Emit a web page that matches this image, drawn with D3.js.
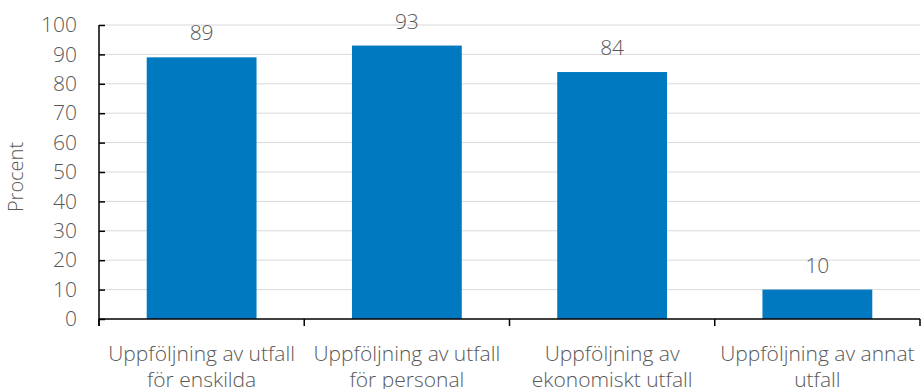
<!DOCTYPE html>
<html>
<head>
<meta charset="utf-8">
<script src="https://cdn.jsdelivr.net/npm/d3@7"></script>
<style>
  html, body { margin: 0; padding: 0; background: #fff; }
  svg { display: block; font-family: "Open Sans", sans-serif; font-weight: 300; }
</style>
</head>
<body>
<svg id="chart" width="921" height="389"></svg>
<script>
// Categories (each label split over two lines) and their percentages
const categories = [
  ["Uppföljning av utfall", "för enskilda"],
  ["Uppföljning av utfall", "för personal"],
  ["Uppföljning av", "ekonomiskt utfall"],
  ["Uppföljning av annat", "utfall"]
];
const values = [89, 93, 84, 10];
const yTicks = [0, 10, 20, 30, 40, 50, 60, 70, 80, 90, 100];
const yLabel = "Procent";

const svg = d3.select("#chart");
const margin = { left: 99, right: 1, top: 25, bottom: 70 };
const width = 921, height = 389;
const textColor = "#595959";
const barColor = "#0079c1";

const keys = categories.map((d, i) => i);
const x = d3.scaleBand()
  .domain(keys)
  .range([margin.left, width - margin.right])
  .paddingInner(0.465)
  .paddingOuter(0.2325);
// Category boundaries for the tick marks on the x axis
const bandStep = (width - margin.right - margin.left) / keys.length;

const y = d3.scaleLinear()
  .domain([0, 100])
  .range([height - margin.bottom, margin.top]);

// Horizontal gridlines
svg.append("g")
  .selectAll("line")
  .data(yTicks.filter(t => t > 0))
  .join("line")
  .attr("x1", margin.left)
  .attr("x2", width - margin.right)
  .attr("y1", d => y(d))
  .attr("y2", d => y(d))
  .attr("stroke", "#d9d9d9")
  .attr("stroke-width", 1);

// Bars
svg.append("g")
  .selectAll("rect")
  .data(values)
  .join("rect")
  .attr("x", (d, i) => x(i))
  .attr("width", x.bandwidth())
  .attr("y", d => y(d))
  .attr("height", d => y(0) - y(d))
  .attr("fill", barColor);

// Value labels above the bars
svg.append("g")
  .selectAll("text")
  .data(values)
  .join("text")
  .attr("x", (d, i) => x(i) + x.bandwidth() / 2)
  .attr("y", d => y(d) - 17)
  .attr("text-anchor", "middle")
  .attr("fill", textColor)
  .attr("font-size", 21)
  .text(d => d);

// Y axis
const yAxis = d3.axisLeft(y)
  .tickValues(yTicks)
  .tickSize(-6)
  .tickPadding(22);
const gy = svg.append("g")
  .attr("transform", `translate(${margin.left},0)`)
  .call(yAxis);
gy.select(".domain").remove();
gy.selectAll(".tick line").attr("stroke", "#000").attr("stroke-width", 1.5);
gy.selectAll(".tick text")
  .attr("fill", textColor)
  .attr("font-size", 21)
  .attr("font-weight", 300)
  .attr("font-family", "Open Sans, sans-serif");
svg.append("line")
  .attr("x1", margin.left).attr("x2", margin.left)
  .attr("y1", y(100)).attr("y2", y(0) + 7)
  .attr("stroke", "#000").attr("stroke-width", 1.5);

// X axis line and category boundary ticks
svg.append("line")
  .attr("x1", margin.left).attr("x2", width - margin.right)
  .attr("y1", y(0)).attr("y2", y(0))
  .attr("stroke", "#000").attr("stroke-width", 1.5);
svg.append("g")
  .selectAll("line")
  .data(d3.range(keys.length + 1))
  .join("line")
  .attr("x1", d => margin.left + d * bandStep)
  .attr("x2", d => margin.left + d * bandStep)
  .attr("y1", y(0))
  .attr("y2", y(0) + 7)
  .attr("stroke", "#000")
  .attr("stroke-width", 1.5);

// Category labels (two lines each)
const catLabels = svg.append("g")
  .selectAll("text")
  .data(categories)
  .join("text")
  .attr("text-anchor", "middle")
  .attr("fill", textColor)
  .attr("font-size", 21);
catLabels.each(function (lines, i) {
  const t = d3.select(this);
  lines.forEach((line, j) => {
    t.append("tspan")
      .attr("x", x(i) + x.bandwidth() / 2)
      .attr("y", y(0) + 42 + j * 26)
      .text(line);
  });
});

// Y axis title
svg.append("text")
  .attr("transform", `translate(23,${(y(0) + y(100)) / 2 + 5}) rotate(-90)`)
  .attr("text-anchor", "middle")
  .attr("fill", textColor)
  .attr("font-size", 20)
  .text(yLabel);
</script>
</body>
</html>
